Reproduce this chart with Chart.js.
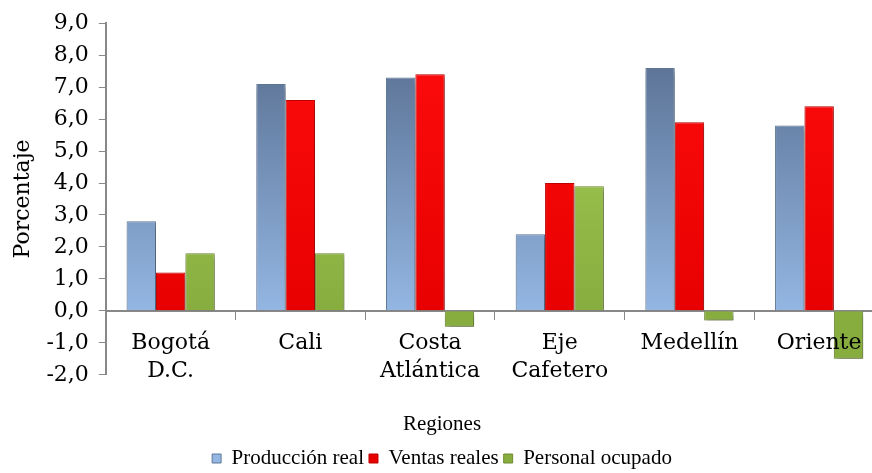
<!DOCTYPE html>
<html>
<head>
<meta charset="utf-8">
<script src="https://cdn.jsdelivr.net/npm/chart.js@4.4.0/dist/chart.umd.min.js"></script>
<style>
  html, body { margin: 0; padding: 0; overflow: hidden; background: #fff; }
</style>
</head>
<body>
<canvas id="chart" width="884" height="473"></canvas>
<script>
// datos
const regiones = [['Bogotá', 'D.C.'], 'Cali', ['Costa', 'Atlántica'], ['Eje', 'Cafetero'], 'Medellín', 'Oriente'];
const produccionReal = [2.8, 7.1, 7.3, 2.4, 7.6, 5.8];
const ventasReales = [1.2, 6.6, 7.4, 4.0, 5.9, 6.4];
const personalOcupado = [1.8, 1.8, -0.5, 3.9, -0.3, -1.5];
const yMin = -2;
const yMax = 9;

const axisGray = '#888888';
const tickFont = '"DejaVu Serif", serif';
const smallFont = '"Liberation Serif", "Times New Roman", serif';

Chart.defaults.font.family = tickFont;
Chart.defaults.font.size = 22;
Chart.defaults.color = '#000';

const shade = (top, bottom) => (context) => {
    const chart = context.chart;
    const area = chart.chartArea;
    if (!area) {
        return bottom;
    }
    const g = chart.ctx.createLinearGradient(0, area.top, 0, chart.scales.y.getPixelForValue(0));
    g.addColorStop(0, top);
    g.addColorStop(1, bottom);
    return g;
};

// sombra suave debajo de las barras
const barShadow = {
    id: 'barShadow',
    beforeDatasetsDraw: (chart) => {
        const c = chart.ctx;
        c.save();
        c.shadowColor = 'rgba(0,0,0,0.35)';
        c.shadowBlur = 5;
        c.shadowOffsetX = 2;
        c.shadowOffsetY = 3;
    },
    afterDatasetsDraw: (chart) => {
        chart.ctx.restore();
    }
};

const chartConfig = {
    type: 'bar',
    data: {
        labels: regiones,
        datasets: [{
            label: 'Producción real',
            data: produccionReal,
            backgroundColor: shade('#54698a', '#93b6e2'),
            borderColor: '#5f7898',
            borderWidth: 1
        }, {
            label: 'Ventas reales',
            data: ventasReales,
            backgroundColor: shade('#ff0d0d', '#e80000'),
            borderColor: '#c00000',
            borderWidth: 1
        }, {
            label: 'Personal ocupado',
            data: personalOcupado,
            backgroundColor: shade('#a9d258', '#87ad3f'),
            borderColor: '#6f8c30',
            borderWidth: 1
        }]
    },
    options: {
        responsive: false,
        animation: false,
        layout: {padding: {top: 13, left: 0, right: 0, bottom: -6}},
        datasets: {
            bar: {categoryPercentage: 0.68, barPercentage: 1.0}
        },
        plugins: {
            legend: {
                position: 'bottom',
                labels: {boxWidth: 9, boxHeight: 9, padding: 5,
                         font: {family: smallFont, size: 21}}
            },
            title: {
                display: true,
                text: 'Regiones',
                position: 'bottom',
                weight: 500,
                color: '#000',
                font: {family: smallFont, size: 21, weight: 'normal'},
                padding: {top: 37, bottom: 6}
            },
            tooltip: {enabled: false}
        },
        scales: {
            x: {
                position: {y: 0},
                grid: {display: true, drawOnChartArea: false, drawTicks: true,
                       tickLength: 8, color: axisGray, offset: true},
                border: {color: axisGray, width: 2},
                ticks: {maxRotation: 0, autoSkip: false, padding: 10, z: 1,
                        font: {size: 22, lineHeight: 1.3}}
            },
            y: {
                min: yMin,
                max: yMax,
                grid: {display: true, drawOnChartArea: false, drawTicks: true,
                       tickLength: 7, color: axisGray},
                border: {color: axisGray, width: 2},
                ticks: {
                    stepSize: 1,
                    padding: 10,
                    callback: (value) => value.toFixed(1).replace('.', ',')
                },
                title: {display: true, text: 'Porcentaje', font: {size: 22},
                        padding: {top: 10, bottom: 0}}
            }
        }
    },
    plugins: [barShadow]
};

new Chart(document.getElementById('chart'), chartConfig);
</script>
</body>
</html>
